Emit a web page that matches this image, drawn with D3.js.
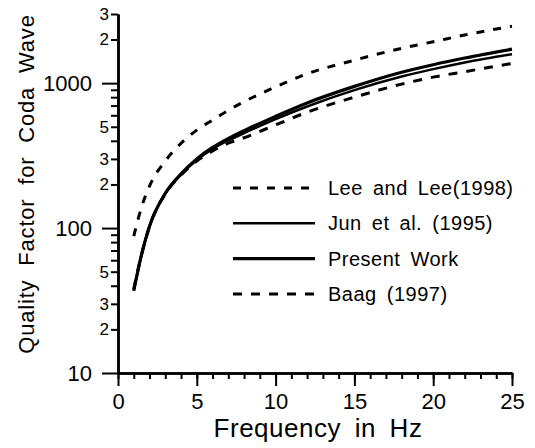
<!DOCTYPE html>
<html>
<head>
<meta charset="utf-8">
<script src="https://cdn.jsdelivr.net/npm/d3@7"></script>
<style>
  body { margin: 0; background: #fff; }
  text { font-family: "Liberation Sans", Arial, sans-serif; fill: #000; }
</style>
</head>
<body>
<script>
var width = 535, height = 448

// values
var freq    = [1, 1.5, 2, 3, 4, 5, 6, 7, 8, 10, 12, 15, 18, 20, 22, 25]
var leeLee  = [88, 140, 195, 290, 385, 474, 556, 650, 745, 942, 1160, 1440, 1740, 1930, 2150, 2470]
var jun     = [37, 66, 103, 172, 234, 295, 352, 402, 452, 565, 690, 895, 1110, 1250, 1390, 1585]
var present = [37, 66, 103, 174, 237, 300, 360, 415, 470, 590, 730, 950, 1190, 1340, 1490, 1715]
var baag    = [38, 66, 103, 172, 232, 290, 340, 385, 420, 515, 630, 800, 985, 1100, 1200, 1368]

var legendNames = ["Lee and Lee(1998)", "Jun et al. (1995)", "Present Work", "Baag (1997)"]

var xMajor = [0, 5, 10, 15, 20, 25]
var xMinor = d3.range(0, 26)
var yMajor = [10, 100, 1000]
var yMinor = [20, 30, 40, 50, 60, 70, 80, 90, 200, 300, 400, 500, 600, 700, 800, 900, 2000, 3000]
var yMinorLabeled = [20, 30, 50, 200, 300, 500, 2000, 3000]

var svg = d3.select("body").append("svg")
    .attr("width", width)
    .attr("height", height)

var x = d3.scaleLinear().domain([0, 25]).range([118, 512])
var y = d3.scaleLog().domain([10, 3000]).range([373, 14])

function styleAxis(g, size) {
  g.attr("font-family", null).attr("font-size", size)
  g.select(".domain").attr("stroke-width", 2.5)
  g.selectAll(".tick line").attr("stroke-width", 2)
}

// x axis
svg.append("g")
  .attr("transform", "translate(0,373)")
  .call(d3.axisBottom(x).tickValues(xMinor).tickSize(6).tickSizeOuter(0).tickFormat(""))
  .call(styleAxis, 22)
svg.append("g")
  .attr("transform", "translate(0,373)")
  .call(d3.axisBottom(x).tickValues(xMajor).tickSize(13).tickSizeOuter(0).tickPadding(7))
  .call(styleAxis, 22)

// y axis
svg.append("g")
  .attr("transform", "translate(118,0)")
  .call(d3.axisLeft(y).tickValues(yMinor).tickSize(7).tickSizeOuter(0).tickPadding(2)
    .tickFormat(function(d) {
      return yMinorLabeled.indexOf(d) >= 0 ? String(d / Math.pow(10, Math.floor(Math.log10(d)))) : ""
    }))
  .call(styleAxis, 17)
svg.append("g")
  .attr("transform", "translate(118,0)")
  .call(d3.axisLeft(y).tickValues(yMajor).tickSize(16).tickSizeOuter(0).tickPadding(10)
    .tickFormat(d3.format("d")))
  .call(styleAxis, 22)

// axis titles
svg.append("text")
  .attr("x", 318).attr("y", 437)
  .attr("text-anchor", "middle")
  .style("font-size", "26px")
  .style("letter-spacing", "0.5px")
  .style("word-spacing", "6px")
  .text("Frequency in Hz")

svg.append("text")
  .attr("transform", "translate(34,184) rotate(-90)")
  .attr("text-anchor", "middle")
  .style("font-size", "22px")
  .style("letter-spacing", "0.8px")
  .style("word-spacing", "7px")
  .text("Quality Factor for Coda Wave")

// curves
var series = [
  {values: leeLee, width: 3, dash: "8,9"},
  {values: jun, width: 2.5, dash: null},
  {values: present, width: 3.2, dash: null},
  {values: baag, width: 3, dash: "9,9"}
]

var line = d3.line()
  .x(function(d) { return x(d[0]) })
  .y(function(d) { return y(d[1]) })
  .curve(d3.curveMonotoneX)

svg.append("g")
  .selectAll("path")
  .data(series)
  .enter().append("path")
  .attr("d", function(s) { return line(freq.map(function(f, i) { return [f, s.values[i]] })) })
  .attr("fill", "none")
  .attr("stroke", "#000")
  .attr("stroke-width", function(s) { return s.width })
  .attr("stroke-dasharray", function(s) { return s.dash })

// legend
var legend = svg.append("g")
  .selectAll("g")
  .data(series)
  .enter().append("g")
  .attr("transform", function(d, i) { return "translate(233," + (188 + i * 35.3) + ")" })

legend.append("line")
  .attr("x1", 0).attr("x2", 82)
  .attr("stroke", "#000")
  .attr("stroke-width", function(s) { return s.width })
  .attr("stroke-dasharray", function(s) { return s.dash })

legend.append("text")
  .attr("x", 95).attr("y", 7)
  .style("font-size", "20px")
  .style("letter-spacing", "0.5px")
  .style("word-spacing", "4px")
  .text(function(d, i) { return legendNames[i] })
</script>
</body>
</html>
